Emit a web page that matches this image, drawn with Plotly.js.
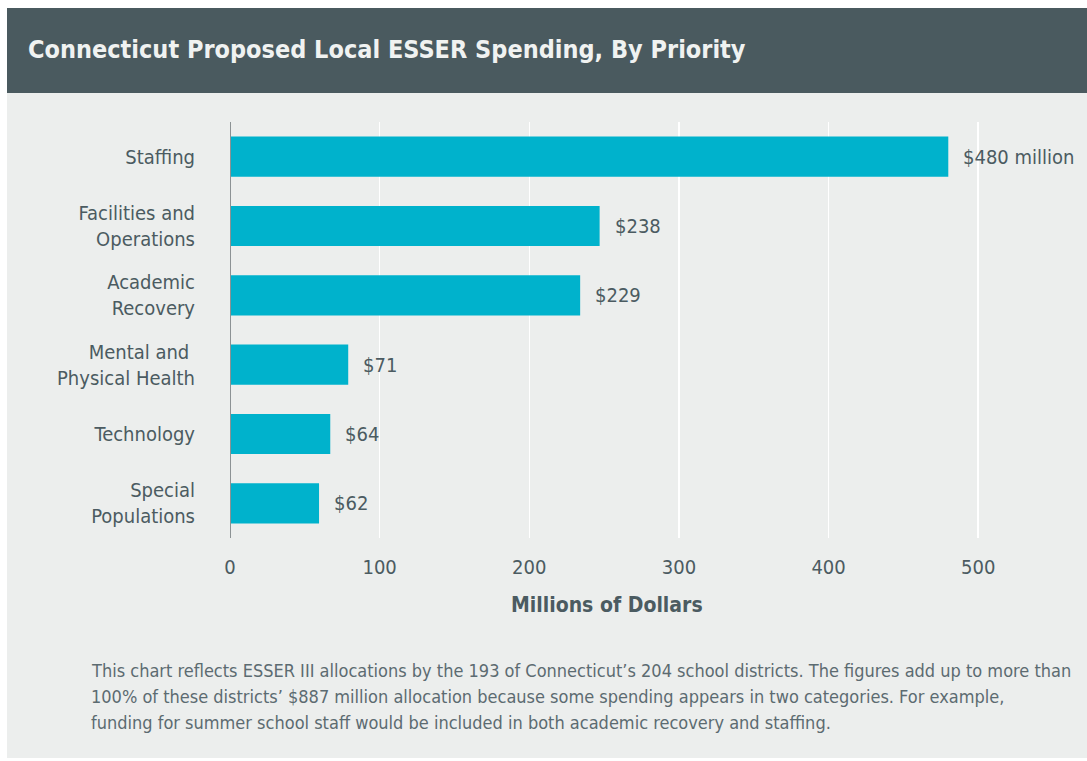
<!DOCTYPE html>
<html>
<head>
<meta charset="utf-8">
<script src="https://cdn.plot.ly/plotly-3.0.1.min.js"></script>
<style>
  html, body { margin: 0; padding: 0; background: #ffffff; }
  #chart { width: 1087px; height: 761px; }
</style>
</head>
<body>
<div id="chart"></div>
<script>
// ---- data ----
const categories = [
  "Staffing",
  "Facilities and<br>Operations",
  "Academic<br>Recovery",
  "Mental and <br>Physical Health",
  "Technology",
  "Special<br>Populations"
];
// bar lengths as drawn in the picture (millions of dollars)
const barValues = [480, 247, 234, 79, 67, 59.5];
// value labels as printed
const valueLabels = ["$480 million", "$238", "$229", "$71", "$64", "$62"];
const xTickValues = [0, 100, 200, 300, 400, 500];
const chartTitle = "Connecticut Proposed Local ESSER Spending, By Priority";
const xAxisTitle = "Millions of Dollars";
const footnoteLines = [
  "This chart reflects ESSER III allocations by the 193 of Connecticut\u2019s 204 school districts. The figures add up to more than",
  "100% of these districts\u2019 $887 million allocation because some spending appears in two categories. For example,",
  "funding for summer school staff would be included in both academic recovery and staffing."
];

// ---- style ----
const FONT = "'DejaVu Sans Condensed', 'Liberation Sans Narrow', sans-serif";
const TEXT = "#4b5b61";
const W = 1087, H = 761;
const L = 230, R = 19, T = 122, B = 538;
const PW = W - L - R, PH = B - T;
const px = (x) => (x - L) / PW;
const py = (y) => (B - y) / PH;

const trace = {
  type: "bar",
  orientation: "h",
  y: categories,
  x: barValues,
  textposition: "none",
  cliponaxis: false,
  marker: { color: "#00b2cc" },
  width: 0.58,
  hoverinfo: "skip"
};

const annotations = [
  {
    text: "<b>" + chartTitle + "</b>", xref: "paper", yref: "paper",
    x: px(26), y: py(50), xanchor: "left", yanchor: "middle",
    showarrow: false,
    font: { family: FONT, size: 25, color: "#f0f2f1" }
  },
  {
    text: "<b>" + xAxisTitle + "</b>", xref: "paper", yref: "paper",
    x: px(607), y: py(605), xanchor: "center", yanchor: "middle",
    showarrow: false,
    font: { family: FONT, size: 21, color: TEXT }
  }
];
// value labels next to bar ends
barValues.forEach((v, i) => {
  annotations.push({
    text: valueLabels[i], xref: "x", yref: "y",
    x: v, y: categories[i], xanchor: "left", yanchor: "middle",
    xshift: 13, showarrow: false,
    font: { family: FONT, size: 20, color: TEXT }
  });
});
footnoteLines.forEach((line, i) => {
  annotations.push({
    text: line, xref: "paper", yref: "paper",
    x: px(89), y: py(670 + i * 26), xanchor: "left", yanchor: "middle",
    showarrow: false,
    font: { family: FONT, size: 18, color: "#5c6b71" }
  });
});

const layout = {
  width: W, height: H,
  margin: { l: L, r: R, t: T, b: H - B, pad: 0 },
  paper_bgcolor: "#ffffff",
  plot_bgcolor: "#eceeed",
  showlegend: false,
  xaxis: {
    range: [0, 560],
    tickvals: xTickValues,
    ticktext: xTickValues.map(String),
    showgrid: true, gridcolor: "#ffffff", gridwidth: 1.5,
    zeroline: false, showline: false,
    ticks: "", ticklabelstandoff: 15,
    tickfont: { family: FONT, size: 20, color: TEXT },
    fixedrange: true
  },
  yaxis: {
    autorange: false,
    range: [5.5, -0.5],
    type: "category",
    showgrid: false, zeroline: false,
    showline: false,
    ticks: "", ticklabelstandoff: 34,
    tickfont: { family: FONT, size: 20, color: TEXT },
    fixedrange: true
  },
  shapes: [
    { type: "rect", xref: "paper", yref: "paper", layer: "below",
      x0: px(7), x1: px(W), y0: py(758), y1: py(93),
      fillcolor: "#eceeed", line: { width: 0 } },
    { type: "rect", xref: "paper", yref: "paper", layer: "below",
      x0: px(7), x1: px(W), y0: py(93), y1: py(8),
      fillcolor: "#4a5a5f", line: { width: 0 } },
    { type: "line", xref: "x", yref: "paper", layer: "above",
      x0: 0, x1: 0, y0: 0, y1: 1,
      line: { color: "#8c9294", width: 2 } }
  ],
  annotations: annotations
};

Plotly.newPlot("chart", [trace], layout, { staticPlot: true, displayModeBar: false });
</script>
</body>
</html>
